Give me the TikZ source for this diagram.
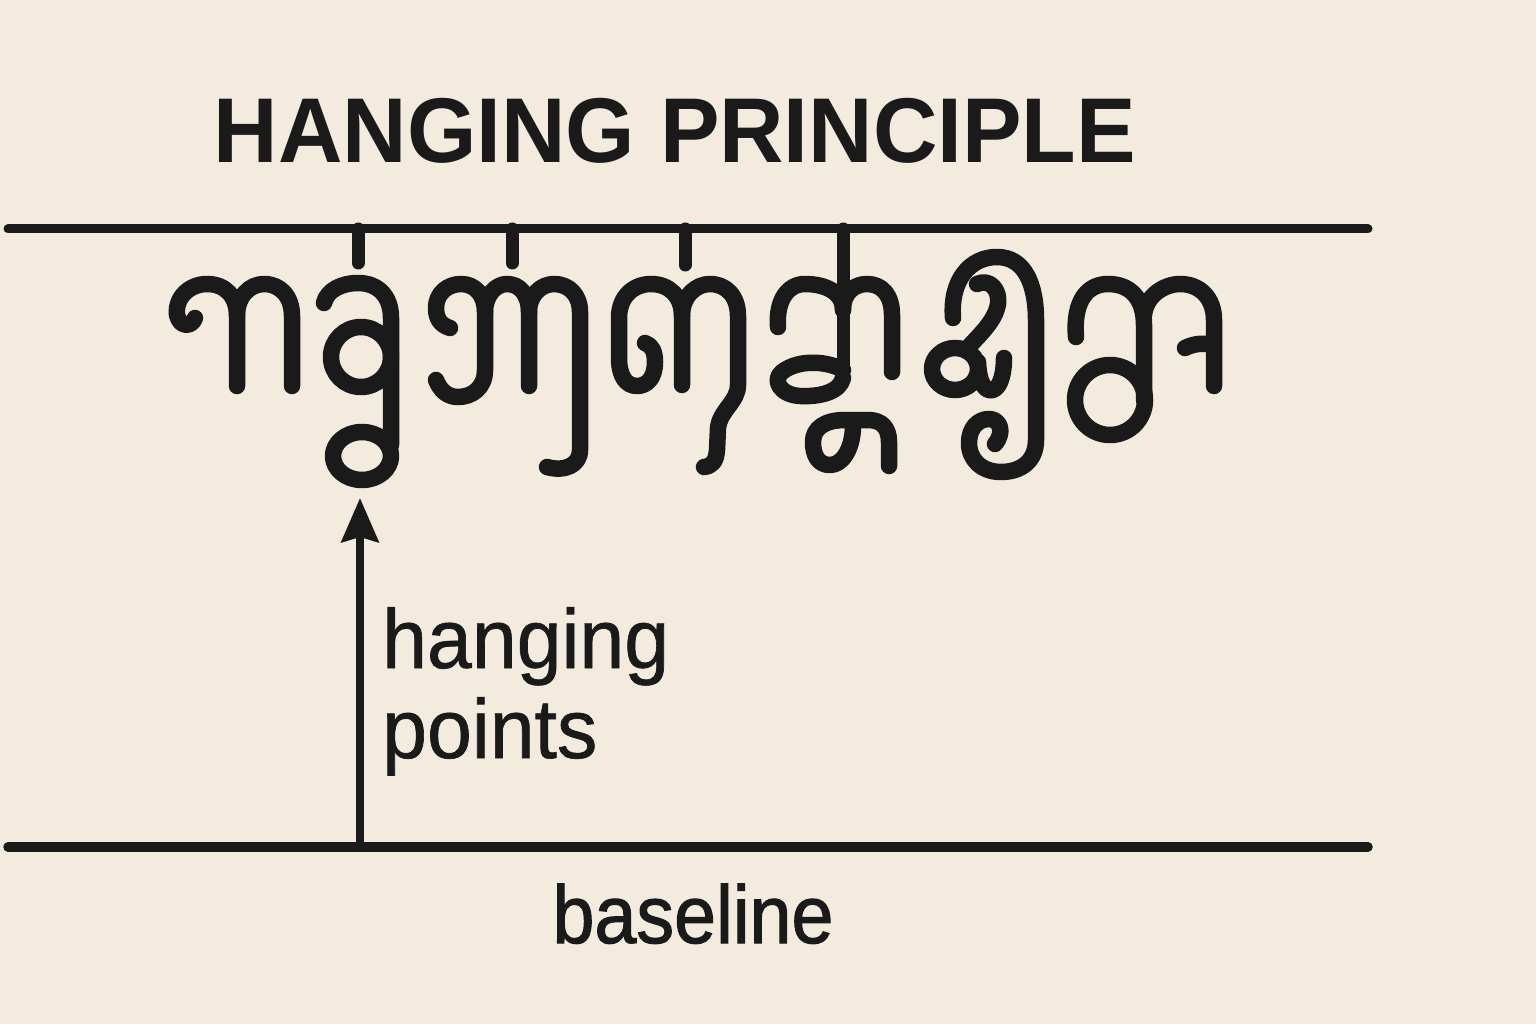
\documentclass[tikz,border=0pt]{standalone}
\usepackage{fontspec}
\setmainfont{Liberation Sans}
\newfontfamily\labelfont[FakeBold=0.8]{Liberation Sans}
\newfontfamily\basefont[FakeBold=1.4]{Liberation Sans}
\usetikzlibrary{arrows.meta}
\definecolor{paper}{HTML}{F2EBDE}
\definecolor{ink}{HTML}{1A1A1A}
\tikzset{
  guide/.style={draw=ink, line width=9pt, line cap=round},
  glyph/.style={draw=ink, line width=16.5pt, line cap=round, line join=round},
  hangstem/.style={draw=ink, line width=13pt, line cap=round},
  pointer/.style={draw=ink, line width=8pt, -{Stealth[length=44pt,width=37pt,inset=5pt]}},
  lbl/.style={text=ink, inner sep=0pt, transform shape},
}
\begin{document}
\begin{tikzpicture}[x=1pt,y=-1pt]
\useasboundingbox (0,0) rectangle (1536,1024);
\fill[paper] (0,0) rectangle (1536,1024);

% title
\node[lbl, anchor=base, xscale=0.97] (title) at (675,163)
  {\fontsize{92}{110}\selectfont\bfseries HANGING PRINCIPLE};

% guide lines
\coordinate (topL) at (8,229);
\coordinate (topR) at (1368,229);
\coordinate (botL) at (8,847);
\coordinate (botR) at (1368,847);
\draw[guide] (topL) -- (topR);
\draw[guide, line width=9.5pt] (botL) -- (botR);

% hanging stems
\draw[hangstem] (358,229) -- (358,263);
\draw[hangstem] (512,229) -- (512,263);
\draw[hangstem] (685,229) -- (685,265);
\draw[hangstem] (843,229) -- (843,372);

% glyph 1
\draw[glyph] (195,318) .. controls (192,327) and (180,328) .. (177,315)
  .. controls (175,297) and (190,284) .. (207,284)
  .. controls (225,284) and (237,296) .. (237,316) -- (237,386);
\draw[glyph] (237,316) .. controls (237,296) and (250,284) .. (264,284)
  .. controls (280,284) and (292,296) .. (292,316) -- (292,386);

% glyph 2
\draw[glyph] (324,303) .. controls (327,290) and (342,283) .. (358,283)
  .. controls (378,283) and (391,296) .. (391,318) -- (391,445);
\draw[glyph] (361,357) ellipse [x radius=30, y radius=30];
\draw[glyph] (362,456) ellipse [x radius=29, y radius=24];

% glyph 3
\draw[glyph] (450,328) .. controls (440,325) and (436,318) .. (436,308)
  .. controls (436,293) and (448,284) .. (461,284)
  .. controls (476,284) and (485,296) .. (485,312) -- (485,370)
  .. controls (485,388) and (472,397) .. (458,397)
  .. controls (447,397) and (440,390) .. (436,380);
\draw[glyph] (485,312) .. controls (485,295) and (496,284) .. (507,284)
  .. controls (520,284) and (529,295) .. (529,312) -- (529,386);
\draw[glyph] (529,312) .. controls (529,295) and (541,284) .. (554,284)
  .. controls (569,284) and (580,295) .. (580,312) -- (580,450)
  .. controls (580,465) and (565,472) .. (547,467);

% glyph 4
\draw[glyph] (645,343) .. controls (652,345) and (655,352) .. (655,362)
  .. controls (655,378) and (647,386) .. (637,386)
  .. controls (626,386) and (619,376) .. (619,358) -- (619,318)
  .. controls (619,296) and (634,284) .. (651,284)
  .. controls (669,284) and (682,296) .. (682,316) -- (682,385);
\draw[glyph] (682,316) .. controls (682,296) and (696,284) .. (710,284)
  .. controls (726,284) and (738,296) .. (738,316) -- (738,385)
  .. controls (738,402) and (720,410) .. (718,428) -- (717,450)
  .. controls (716,462) and (712,466) .. (704,467);

% glyph 5
\draw[glyph] (778,327) .. controls (776,300) and (788,284) .. (805,284)
  .. controls (825,284) and (843,292) .. (843,310);
\draw[glyph] (843,310) .. controls (843,292) and (855,284) .. (867,284)
  .. controls (882,284) and (892,295) .. (892,315) -- (892,372);
\draw[glyph] (843,370) .. controls (830,362) and (800,358) .. (782,372)
  .. controls (772,380) and (780,395) .. (800,396)
  .. controls (820,397) and (840,392) .. (843,378);
\draw[glyph] (853,428) .. controls (852,450) and (842,465) .. (830,465)
  .. controls (818,465) and (813,455) .. (813,442)
  .. controls (813,428) and (825,420) .. (845,420) -- (868,420)
  .. controls (882,420) and (889,428) .. (889,442) -- (889,466);

% glyph 6
\draw[glyph] (953,318) .. controls (950,280) and (970,257) .. (997,257)
  .. controls (1025,257) and (1036,285) .. (1036,320) -- (1036,440)
  .. controls (1036,462) and (1020,472) .. (1001,472)
  .. controls (982,472) and (969,460) .. (969,443)
  .. controls (969,428) and (978,419) .. (989,419)
  .. controls (1000,419) and (1005,432) .. (995,444);
\draw[glyph] (977,284) .. controls (990,278) and (1000,290) .. (998,304)
  .. controls (995,322) and (978,336) .. (966,350);
\draw[glyph] (955,369) ellipse [x radius=23, y radius=21];
\draw[glyph] (978,362) .. controls (979,385) and (986,392) .. (993,390)
  .. controls (1001,387) and (1004,372) .. (1004,358);

% glyph 7
\draw[glyph] (1076,337) .. controls (1073,300) and (1088,284) .. (1108,284)
  .. controls (1130,284) and (1144,298) .. (1144,325) -- (1144,400);
\draw[glyph] (1110,400) circle [radius=35];
\draw[glyph] (1144,315) .. controls (1146,295) and (1165,284) .. (1180,284)
  .. controls (1200,284) and (1214,298) .. (1214,320) -- (1214,386);
\draw[glyph] (1185,348) .. controls (1195,343) and (1205,343) .. (1212,345);

% arrow
\coordinate (arrowbase) at (360,847);
\coordinate (arrowtip) at (360,498);
\draw[pointer] (arrowbase) -- (arrowtip);

% labels
\node[lbl, anchor=base west, xscale=0.96] (hanging) at (382,668)
  {\fontsize{84}{90}\selectfont\labelfont hanging};
\node[lbl, anchor=base west, xscale=0.96] (points) at (382,758)
  {\fontsize{84}{90}\selectfont\labelfont points};
\node[lbl, anchor=base, xscale=0.92] (baseline) at (693,943)
  {\fontsize{82}{90}\selectfont\basefont baseline};
\end{tikzpicture}
\end{document}
